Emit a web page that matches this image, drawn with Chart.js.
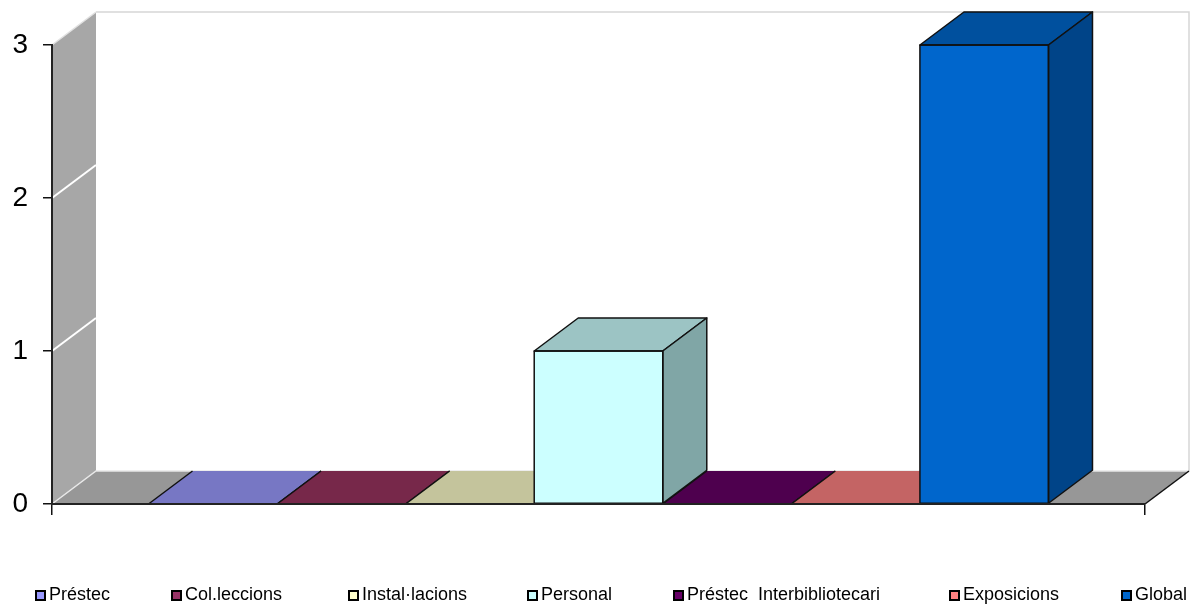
<!DOCTYPE html>
<html>
<head>
<meta charset="utf-8">
<script src="https://cdn.jsdelivr.net/npm/chart.js@4.4.1/dist/chart.umd.min.js"></script>
<style>
html,body{margin:0;padding:0;background:#fff;}
#wrap{width:1198px;height:611px;position:relative;}
</style>
</head>
<body>
<div id="wrap"><canvas id="c" width="1198" height="611"></canvas></div>
<script>
// ---- data ----
const categories = [''];
const seriesNames = ['Préstec', 'Col.leccions', 'Instal·lacions', 'Personal', 'Préstec  Interbibliotecari', 'Exposicions', 'Global'];
const seriesValues = [0, 0, 0, 1, 0, 0, 3];
const yTickValues = [0, 1, 2, 3];

// ---- styles ----
const frontColors = ['#9999ff', '#993366', '#ffffcc', '#ccffff', '#660066', '#ff8080', '#0066cc'];
const topColors   = ['#7777c4', '#77284a', '#c4c49c', '#9cc4c4', '#4e004e', '#c46464', '#00509e'];
const sideColors  = ['#6464aa', '#631f3d', '#a9a985', '#80a6a6', '#400040', '#a95454', '#004488'];
const legendX = [35, 171, 348, 527, 673, 949, 1121];
const DX = 44, DY = 33;
const FONT = "'Liberation Sans', Arial, sans-serif";

function poly(ctx, pts) {
  ctx.beginPath();
  ctx.moveTo(pts[0][0], pts[0][1]);
  for (let i = 1; i < pts.length; i++) ctx.lineTo(pts[i][0], pts[i][1]);
  ctx.closePath();
}

function barGeom(chart) {
  return chart.data.datasets.map((ds, i) => {
    const el = chart.getDatasetMeta(i).data[0];
    const p = el.getProps(['x', 'y', 'base', 'width'], true);
    return {i, x0: p.x - p.width / 2, x1: p.x + p.width / 2, top: p.y, base: p.base};
  });
}

const walls3d = {
  id: 'walls3d',
  beforeDraw(chart) {
    const ctx = chart.ctx, a = chart.chartArea, ys = chart.scales.y;
    const L = a.left, R = a.right;
    const T = ys.getPixelForValue(ys.max), B = ys.getPixelForValue(0);
    ctx.save();
    // back wall
    ctx.fillStyle = '#ffffff';
    ctx.fillRect(L + DX, T - DY, R - L, B - T);
    ctx.strokeStyle = '#d6d6d6';
    ctx.lineWidth = 1.5;
    ctx.beginPath();
    ctx.moveTo(L + DX, T - DY); ctx.lineTo(R + DX, T - DY); ctx.lineTo(R + DX, B - DY);
    ctx.stroke();
    // left wall
    poly(ctx, [[L, T], [L + DX, T - DY], [L + DX, B - DY], [L, B]]);
    ctx.fillStyle = '#a7a7a7';
    ctx.fill();
    ctx.strokeStyle = '#e2e2e2';
    ctx.lineWidth = 1.5;
    ctx.beginPath(); ctx.moveTo(L, T); ctx.lineTo(L + DX, T - DY); ctx.stroke();
    // gridlines on left wall
    ctx.strokeStyle = '#ffffff';
    ctx.lineWidth = 2;
    yTickValues.forEach(v => {
      if (v === 0 || v === ys.max) return;
      const p = ys.getPixelForValue(v);
      ctx.beginPath(); ctx.moveTo(L, p); ctx.lineTo(L + DX, p - DY); ctx.stroke();
    });
    // floor
    poly(ctx, [[L, B], [R, B], [R + DX, B - DY], [L + DX, B - DY]]);
    ctx.fillStyle = '#979797';
    ctx.fill();
    ctx.strokeStyle = '#e8e8e8';
    ctx.lineWidth = 1.5;
    ctx.beginPath(); ctx.moveTo(L, B); ctx.lineTo(L + DX, B - DY); ctx.lineTo(R + DX, B - DY); ctx.stroke();
    ctx.restore();
  },
  beforeDatasetsDraw(chart) {
    const ctx = chart.ctx, a = chart.chartArea, ys = chart.scales.y;
    const R = a.right, B = ys.getPixelForValue(0);
    ctx.save();
    ctx.lineJoin = 'round';
    // zero-height bars: floor bands
    barGeom(chart).filter(b => b.base - b.top < 0.5).forEach(b => {
      poly(ctx, [[b.x0, b.base], [b.x1, b.base], [b.x1 + DX, b.base - DY], [b.x0 + DX, b.base - DY]]);
      ctx.fillStyle = topColors[b.i];
      ctx.fill();
      ctx.strokeStyle = '#111';
      ctx.lineWidth = 1.5;
      ctx.beginPath();
      ctx.moveTo(b.x0 + DX, b.base - DY); ctx.lineTo(b.x0, b.base); ctx.lineTo(b.x1, b.base); ctx.lineTo(b.x1 + DX, b.base - DY);
      ctx.stroke();
    });
    // right floor edge + front edge
    ctx.strokeStyle = '#111';
    ctx.lineWidth = 1.5;
    ctx.beginPath(); ctx.moveTo(R, B); ctx.lineTo(R + DX, B - DY); ctx.stroke();
    ctx.restore();
  },
  afterDatasetsDraw(chart) {
    const ctx = chart.ctx;
    ctx.save();
    ctx.lineJoin = 'round';
    ctx.strokeStyle = '#111';
    ctx.lineWidth = 1.5;
    barGeom(chart).filter(b => b.base - b.top >= 0.5).forEach(b => {
      poly(ctx, [[b.x0, b.top], [b.x1, b.top], [b.x1 + DX, b.top - DY], [b.x0 + DX, b.top - DY]]);
      ctx.fillStyle = topColors[b.i];
      ctx.fill();
      ctx.stroke();
      poly(ctx, [[b.x1, b.top], [b.x1 + DX, b.top - DY], [b.x1 + DX, b.base - DY], [b.x1, b.base]]);
      ctx.fillStyle = sideColors[b.i];
      ctx.fill();
      ctx.stroke();
      ctx.strokeRect(b.x0, b.top, b.x1 - b.x0, b.base - b.top);
    });
    ctx.restore();
  },
  afterDraw(chart) {
    const ctx = chart.ctx;
    ctx.save();
    ctx.font = '18px ' + FONT;
    ctx.textAlign = 'left';
    ctx.textBaseline = 'alphabetic';
    chart.data.datasets.forEach((ds, i) => {
      const x = legendX[i];
      ctx.fillStyle = frontColors[i];
      ctx.fillRect(x + 1, 591, 9, 9);
      ctx.strokeStyle = '#000';
      ctx.lineWidth = 2;
      ctx.strokeRect(x + 1, 591, 9, 9);
      ctx.fillStyle = '#000';
      ctx.fillText(ds.label, x + 14, 600);
    });
    ctx.restore();
  }
};

const datasets = seriesNames.map((name, i) => ({
  label: name,
  data: [seriesValues[i]],
  backgroundColor: frontColors[i],
  borderWidth: 0,
  categoryPercentage: 0.8234,
  barPercentage: 1.0
}));

new Chart(document.getElementById('c'), {
  type: 'bar',
  data: {labels: categories, datasets},
  plugins: [walls3d],
  options: {
    responsive: false,
    animation: false,
    layout: {padding: {top: 45, right: 53, left: 0, bottom: 0}},
    plugins: {legend: {display: false}, tooltip: {enabled: false}},
    scales: {
      x: {
        offset: true,
        ticks: {display: false},
        grid: {drawOnChartArea: false, tickLength: 11, color: '#111', lineWidth: 1.5, offset: true},
        border: {display: true, color: '#222', width: 2, z: 1},
        afterFit: s => { s.height = 107; }
      },
      y: {
        min: 0, max: 3,
        afterBuildTicks: s => { s.ticks = yTickValues.map(v => ({value: v})); },
        ticks: {font: {family: FONT, size: 28}, color: '#000', padding: 15},
        grid: {drawOnChartArea: false, tickLength: 9, color: '#111', lineWidth: 1.5},
        border: {display: true, color: '#222', width: 2},
        afterFit: s => { s.width = 52; }
      }
    }
  }
});
</script>
</body>
</html>
